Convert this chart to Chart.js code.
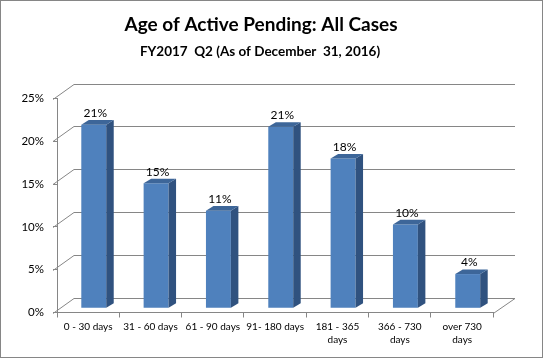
<!DOCTYPE html>
<html><head><meta charset="utf-8">
<script src="https://cdn.jsdelivr.net/npm/chart.js@4"></script>
<style>html,body{margin:0;padding:0;background:#fff}#wrap{width:543px;height:358px;position:relative}canvas{display:block}</style>
</head><body><div id="wrap"><canvas id="c" width="543" height="358"></canvas></div>
<script>
// ---- data ----
const categories = [['0 - 30 days'], ['31 - 60 days'], ['61 - 90 days'], ['91- 180 days'], ['181 - 365', 'days'], ['366 - 730', 'days'], ['over 730', 'days']];
const pendingShare = [21.45, 14.6, 11.4, 21.2, 17.5, 9.8, 4.0];
const yTicks = [0, 5, 10, 15, 20, 25];
const chartTitle = 'Age of Active Pending: All Cases';
const chartSubtitle = 'FY2017  Q2 (As of December  31, 2016)';

// ---- style / geometry ----
const FONT = 'Lato';
const BAR_SHIFT = {dx: 5.6, dy: -4.2};
const BAR_DEPTH = {dx: 7.5, dy: -4.6};
const WALL_DY = -15.5;
const BACK_LEFT = 74, BACK_RIGHT = 515;
const GRID = '#868686';
const FRONT = '#4F81BD', SIDE = '#30527F', TOP = '#3D6699';

const threeD = {
  id: 'threeD',
  beforeDatasetsDraw(chart) {
    const ctx = chart.ctx, a = chart.chartArea, ys = chart.scales.y;
    ctx.save();
    ctx.strokeStyle = GRID; ctx.lineWidth = 1;
    ys.ticks.forEach(t => {
      const fy = Math.round(ys.getPixelForValue(t.value)) + 0.5;
      const by = Math.round(fy + WALL_DY) + 0.5;
      ctx.beginPath();
      ctx.moveTo(a.left - 4, fy); ctx.lineTo(BACK_LEFT, by); ctx.lineTo(BACK_RIGHT, by);
      ctx.stroke();
    });
    const fb = Math.round(a.bottom) + 0.5;
    ctx.beginPath();
    ctx.moveTo(a.right, fb); ctx.lineTo(BACK_RIGHT, Math.round(fb + WALL_DY) + 0.5);
    ctx.stroke();
    ctx.restore();
    ctx.save();
    ctx.translate(BAR_SHIFT.dx, BAR_SHIFT.dy);
  },
  afterDatasetsDraw(chart) {
    const ctx = chart.ctx;
    const meta = chart.getDatasetMeta(0);
    meta.data.forEach((el, i) => {
      const p = el.getProps(['x', 'y', 'width', 'base'], true);
      const l = p.x - p.width / 2, r = p.x + p.width / 2;
      ctx.fillStyle = SIDE;
      ctx.beginPath();
      ctx.moveTo(r, p.y); ctx.lineTo(r + BAR_DEPTH.dx, p.y + BAR_DEPTH.dy);
      ctx.lineTo(r + BAR_DEPTH.dx, p.base + BAR_DEPTH.dy); ctx.lineTo(r, p.base);
      ctx.closePath(); ctx.fill();
      ctx.fillStyle = TOP;
      ctx.beginPath();
      ctx.moveTo(l, p.y); ctx.lineTo(l + BAR_DEPTH.dx, p.y + BAR_DEPTH.dy);
      ctx.lineTo(r + BAR_DEPTH.dx, p.y + BAR_DEPTH.dy); ctx.lineTo(r, p.y);
      ctx.closePath(); ctx.fill();
      ctx.fillStyle = '#000';
      ctx.font = '12px ' + FONT;
      ctx.textAlign = 'center'; ctx.textBaseline = 'bottom';
      ctx.fillText(Math.round(pendingShare[i]) + '%', p.x + 1.5, p.y + BAR_DEPTH.dy - 1);
    });
    ctx.restore();
  },
  afterDraw(chart) {
    const ctx = chart.ctx;
    ctx.save();
    ctx.fillStyle = '#000'; ctx.textAlign = 'center'; ctx.textBaseline = 'middle';
    ctx.font = 'bold 19px ' + FONT;
    ctx.fillText(chartTitle, 261, 25);
    ctx.font = 'bold 13.5px ' + FONT;
    ctx.fillText(chartSubtitle, 260, 52);
    ctx.strokeStyle = '#868686'; ctx.lineWidth = 1;
    ctx.strokeRect(0.5, 0.5, 542, 357);
    ctx.restore();
  }
};

new Chart(document.getElementById('c'), {
  type: 'bar',
  data: {
    labels: categories,
    datasets: [{data: pendingShare, backgroundColor: FRONT, borderWidth: 0,
      barPercentage: 0.4, categoryPercentage: 1.0, clip: false}]
  },
  options: {
    responsive: false, animation: false, devicePixelRatio: 1,
    layout: {padding: {left: 0, top: 98.5, right: 49.7, bottom: 0}},
    plugins: {legend: {display: false}, tooltip: {enabled: false}, title: {display: false}},
    scales: {
      x: {
        offset: true,
        grid: {display: true, drawOnChartArea: false, offset: true, tickLength: 5, color: GRID},
        border: {display: true, color: GRID},
        ticks: {font: {family: FONT, size: 10, lineHeight: 1.3}, color: '#000', maxRotation: 0, autoSkip: false, padding: 3},
        afterFit(s) { s.height = 358 - 312.5; }
      },
      y: {
        min: 0, max: 25,
        afterBuildTicks(s) { s.ticks = yTicks.map(v => ({value: v})); },
        grid: {display: true, drawOnChartArea: false, tickLength: 4, color: GRID},
        border: {display: true, color: GRID},
        ticks: {font: {family: FONT, size: 11.5}, color: '#000', padding: 9, callback: v => v + '%'},
        afterFit(s) { s.width = 57; }
      }
    }
  },
  plugins: [threeD]
});
</script></body></html>
